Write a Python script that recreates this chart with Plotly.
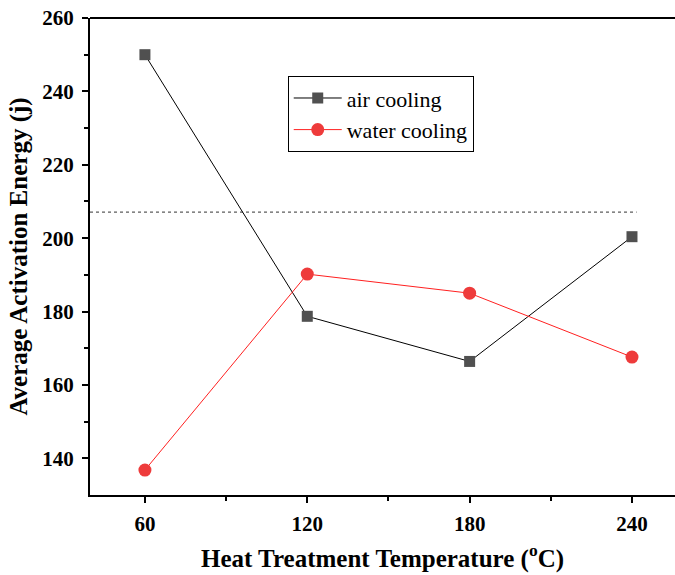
import plotly.graph_objects as go

temps = [60, 120, 180, 240]
air_cooling = [250.0, 178.7, 166.4, 200.4]
water_cooling = [136.8, 190.2, 185.0, 167.6]
ref_x = [39.7, 241.7]
ref_y = [207.1, 207.1]

fig = go.Figure()
fig.add_trace(go.Scatter(x=ref_x, y=ref_y, mode="lines", showlegend=False,
                         line=dict(color="#333333", width=1, dash="dot"), hoverinfo="skip"))
fig.add_trace(go.Scatter(x=temps, y=air_cooling, mode="lines+markers", name="air cooling",
                         line=dict(color="#000000", width=1),
                         marker=dict(symbol="square", size=11, color="#505050",
                                     line=dict(color="#505050", width=0))))
fig.add_trace(go.Scatter(x=temps, y=water_cooling, mode="lines+markers", name="water cooling",
                         line=dict(color="#ff2020", width=1),
                         marker=dict(symbol="circle", size=13, color="#ee3b3b",
                                     line=dict(width=0))))

SERIF = "Liberation Serif"
fig.add_shape(type="line", xref="paper", yref="paper", x0=0, x1=1, y0=1, y1=1,
              line=dict(color="black", width=2))
fig.update_layout(
    width=675, height=575,
    margin=dict(l=90, r=0, t=18, b=80),
    paper_bgcolor="white", plot_bgcolor="white",
    font=dict(family=SERIF, color="black"),
    legend=dict(x=0.338, y=0.878, xanchor="left", yanchor="top",
                bordercolor="black", borderwidth=1, bgcolor="white",
                font=dict(family=SERIF, size=22),
                tracegroupgap=0, itemwidth=48),
    xaxis=dict(range=[39.7, 255.9], tickvals=temps, ticks="outside", ticklen=6, tickwidth=1.5,
               tickcolor="black", showline=True, linecolor="black", linewidth=2, mirror=False,
               showgrid=False, zeroline=False, ticklabelstandoff=3,
               tickfont=dict(family=SERIF, size=21, weight="bold"),
               title=dict(text="<b>Heat Treatment Temperature (<sup>o</sup>C)</b>",
                          font=dict(family=SERIF, size=25), standoff=14),
               minor=dict(tickvals=[90, 150, 210], ticks="outside", ticklen=4, tickwidth=1.5,
                          tickcolor="black")),
    yaxis=dict(range=[130, 260], tickvals=[140, 160, 180, 200, 220, 240, 260], ticks="outside",
               ticklen=6, tickwidth=1.5, tickcolor="black", showline=True, linecolor="black",
               linewidth=2, showgrid=False, zeroline=False, ticklabelstandoff=4,
               tickfont=dict(family=SERIF, size=21, weight="bold"),
               title=dict(text="<b>Average Activation Energy (j)</b>",
                          font=dict(family=SERIF, size=25), standoff=8),
               minor=dict(tickvals=[150, 170, 190, 210, 230, 250], ticks="outside", ticklen=4,
                          tickwidth=1.5, tickcolor="black")),
)
fig.write_html("out.html")
